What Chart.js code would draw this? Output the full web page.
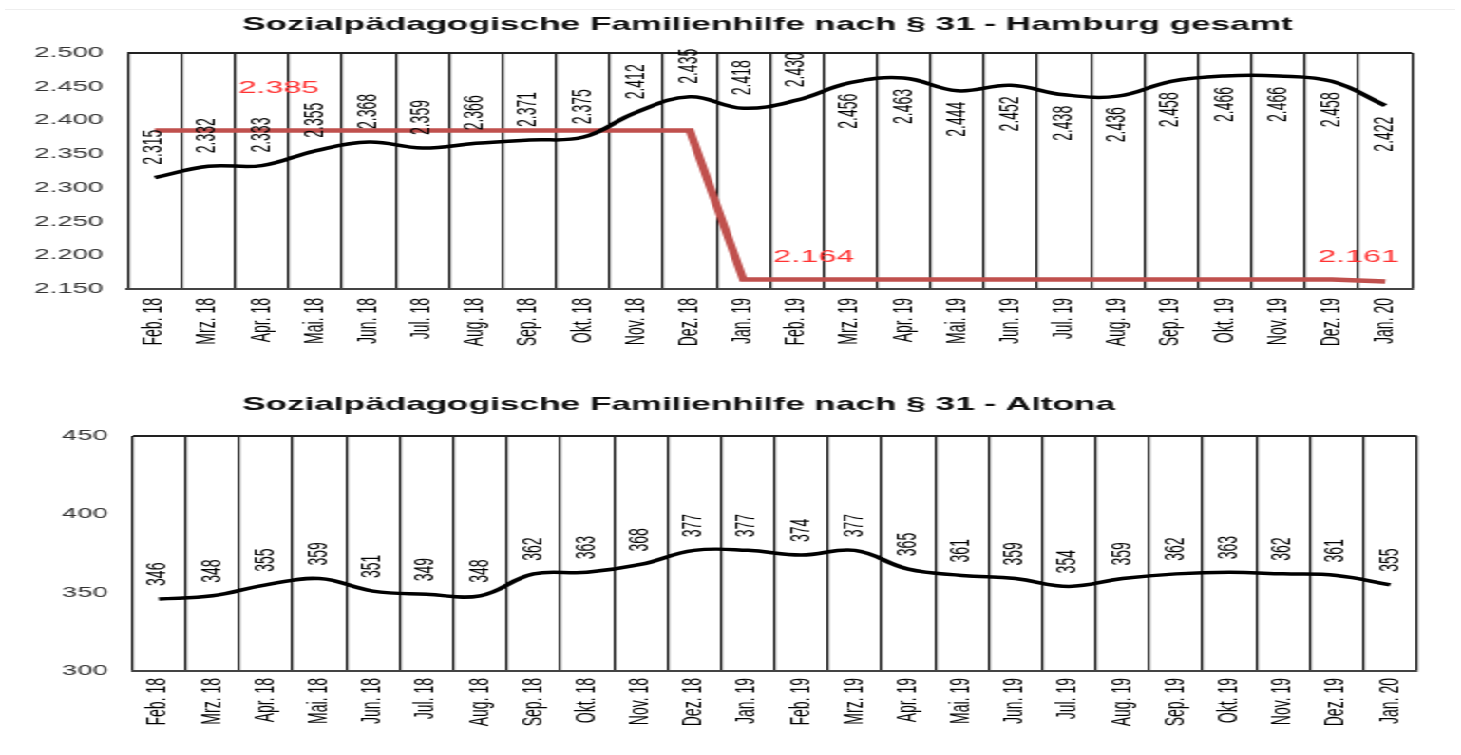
<!DOCTYPE html>
<html>
<head>
<meta charset="utf-8">
<title>Sozialpädagogische Familienhilfe nach § 31</title>
<script src="https://cdn.jsdelivr.net/npm/chart.js@4.4.0/dist/chart.umd.min.js"></script>
<style>
    html, body { margin: 0; padding: 0; background: #fff; overflow: hidden; }
    #rule { position: absolute; left: 5px; top: 9px; width: 1450px; height: 1px; background: #eeeeee; }
    /* the original picture is stretched sideways, so the charts are drawn narrow and scaled */
    #wrap { position: absolute; left: 0; top: 0; width: 769px; height: 755px; transform: scaleX(1.9); transform-origin: 0 0; }
    #wrap canvas { position: absolute; left: 0; }
</style>
</head>
<body>
<div id="rule"></div>
<div id="wrap">
    <canvas id="hamburg-chart" width="769" height="375" style="top:0px"></canvas>
    <canvas id="altona-chart" width="769" height="380" style="top:375px"></canvas>
</div>
<script>
// Daten
const months = ['Feb. 18', 'Mrz. 18', 'Apr. 18', 'Mai. 18', 'Jun. 18', 'Jul. 18', 'Aug. 18', 'Sep. 18',
    'Okt. 18', 'Nov. 18', 'Dez. 18', 'Jan. 19', 'Feb. 19', 'Mrz. 19', 'Apr. 19', 'Mai. 19', 'Jun. 19',
    'Jul. 19', 'Aug. 19', 'Sep. 19', 'Okt. 19', 'Nov. 19', 'Dez. 19', 'Jan. 20'];

const hamburgCases = [2315, 2332, 2333, 2355, 2368, 2359, 2366, 2371, 2375, 2412, 2435, 2418,
    2430, 2456, 2463, 2444, 2452, 2438, 2436, 2458, 2466, 2466, 2458, 2422];
const hamburgTarget = [2385, 2385, 2385, 2385, 2385, 2385, 2385, 2385, 2385, 2385, 2385, 2164,
    2164, 2164, 2164, 2164, 2164, 2164, 2164, 2164, 2164, 2164, 2164, 2161];
const hamburgTargetLabelIdx = [2, 12, 23];

const altonaCases = [346, 348, 355, 359, 351, 349, 348, 362, 363, 368, 377, 377,
    374, 377, 365, 361, 359, 354, 359, 362, 363, 362, 361, 355];

const hamburgAxis = { min: 2150, max: 2500, step: 50 };
const altonaAxis = { min: 300, max: 450, step: 50 };

const FONT = '"Liberation Sans", Arial, Helvetica, sans-serif';
Chart.defaults.font.family = FONT;

// 2315 -> "2.315"
function deNum(v) {
    const s = String(Math.round(v));
    return s.length > 3 ? s.slice(0, -3) + '.' + s.slice(-3) : s;
}

// Titel links ausgerichtet
const leftTitle = {
    id: 'leftTitle',
    afterDraw(chart, args, opts) {
        const ctx = chart.ctx;
        ctx.save();
        ctx.font = 'bold 18.5px ' + FONT;
        ctx.fillStyle = '#111';
        ctx.textAlign = 'left';
        ctx.textBaseline = 'middle';
        ctx.fillText(opts.text, opts.x, opts.y);
        ctx.restore();
    }
};

// senkrechte Werte an der schwarzen Linie
const valueLabels = {
    id: 'valueLabels',
    afterDatasetsDraw(chart, args, opts) {
        const meta = chart.getDatasetMeta(0);
        const data = chart.data.datasets[0].data;
        const ctx = chart.ctx;
        ctx.save();
        ctx.font = '14px ' + FONT;
        ctx.fillStyle = '#000';
        ctx.textBaseline = 'middle';
        meta.data.forEach((pt, i) => {
            const below = opts.belowFrom !== undefined && i >= opts.belowFrom;
            ctx.save();
            ctx.translate(pt.x, pt.y + (below ? opts.gapBelow : -opts.gapAbove));
            ctx.rotate(-Math.PI / 2);
            ctx.textAlign = below ? 'right' : 'left';
            ctx.fillText(deNum(data[i]), 0, 0);
            ctx.restore();
        });
        ctx.restore();
    }
};

// rote Beschriftung der Zielwerte
const targetLabels = {
    id: 'targetLabels',
    afterDatasetsDraw(chart, args, opts) {
        if (!opts.indices) return;
        const meta = chart.getDatasetMeta(1);
        const data = chart.data.datasets[1].data;
        const ctx = chart.ctx;
        ctx.save();
        ctx.font = '17px ' + FONT;
        ctx.fillStyle = '#ff3333';
        ctx.textAlign = 'center';
        ctx.textBaseline = 'middle';
        opts.indices.forEach((idx, k) => {
            const pt = meta.data[idx];
            ctx.fillText(deNum(data[idx]), pt.x + opts.dx[k], pt.y + opts.dy[k]);
        });
        ctx.restore();
    }
};

function makeOptions(axis, lay) {
    return {
        responsive: false,
        animation: false,
        layout: { padding: { top: lay.top, right: lay.right, bottom: 0, left: 0 } },
        scales: {
            x: {
                type: 'category',
                offset: true,
                grid: { offset: true, color: '#111', lineWidth: 1.2, drawTicks: false },
                border: { display: true, color: '#444', width: 2 },
                ticks: {
                    color: '#000', font: { size: 14 }, padding: lay.xPad,
                    minRotation: 90, maxRotation: 90, autoSkip: false
                },
                afterFit(scale) { scale.height = lay.xHeight; }
            },
            y: {
                min: axis.min,
                max: axis.max,
                grid: {
                    drawTicks: false,
                    lineWidth: 2,
                    color: c => (c.tick && c.tick.value === axis.max) ? '#222' : 'rgba(0,0,0,0)'
                },
                border: { display: false },
                ticks: {
                    stepSize: axis.step, color: '#333', font: { size: 14.5 }, padding: lay.yPad,
                    callback: v => deNum(v)
                },
                afterFit(scale) { scale.width = lay.left; }
            }
        },
        plugins: {
            legend: { display: false },
            tooltip: { enabled: false },
            title: { display: false },
            leftTitle: { text: lay.title, x: 127.4, y: lay.titleY },
            valueLabels: lay.labels,
            targetLabels: lay.target || {}
        }
    };
}

// Hamburg gesamt
new Chart(document.getElementById('hamburg-chart').getContext('2d'), {
    type: 'line',
    data: {
        labels: months,
        datasets: [{
            label: 'Hamburg gesamt',
            data: hamburgCases,
            borderColor: '#000',
            borderWidth: 3.5,
            pointRadius: 0,
            tension: 0.4,
            fill: false
        }, {
            label: 'Zielwert',
            data: hamburgTarget,
            borderColor: '#c0504d',
            borderWidth: 4.5,
            pointRadius: 0,
            tension: 0,
            fill: false
        }]
    },
    options: makeOptions(hamburgAxis, {
        top: 53, right: 25.8, left: 67.4, xHeight: 86, xPad: 9, yPad: 13,
        title: 'Sozialpädagogische Familienhilfe nach § 31 - Hamburg gesamt', titleY: 25,
        labels: { gapAbove: 13, gapBelow: 11, belowFrom: 13 },
        target: { indices: hamburgTargetLabelIdx, dx: [9, 9, -14], dy: [-42, -22, -24] }
    }),
    plugins: [leftTitle, valueLabels, targetLabels]
});

// Altona
new Chart(document.getElementById('altona-chart').getContext('2d'), {
    type: 'line',
    data: {
        labels: months,
        datasets: [{
            label: 'Altona',
            data: altonaCases,
            borderColor: '#000',
            borderWidth: 3.5,
            pointRadius: 0,
            tension: 0.4,
            fill: false
        }]
    },
    options: makeOptions(altonaAxis, {
        top: 61, right: 23.2, left: 69.5, xHeight: 84, xPad: 7, yPad: 12.7,
        title: 'Sozialpädagogische Familienhilfe nach § 31 - Altona', titleY: 30,
        labels: { gapAbove: 13 }
    }),
    plugins: [leftTitle, valueLabels, targetLabels]
});
</script>
</body>
</html>
